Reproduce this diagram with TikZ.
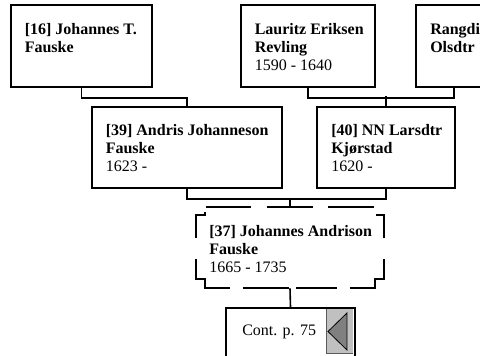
\documentclass[tikz,border=0pt]{standalone}
\usepackage{fontspec}
\setmainfont{Liberation Serif}
\usetikzlibrary{fit}
\begin{document}
\begin{tikzpicture}[x=0.75pt,y=-0.75pt,
  box/.style={draw=black, line width=1.5pt, fill=white, inner sep=0pt},
  ghost/.style={inner sep=0pt},
  conn/.style={line width=1.2pt},
  txt/.style={inner sep=0pt, anchor=base west, font=\fontsize{12}{13.6}\selectfont},
  dsh/.style={line width=1pt}]
\useasboundingbox (0,0) rectangle (480,355);
\clip (0,0) rectangle (480,355);

% boxes
\node[box, fit={(11,5)(152,87)}] (b16) {};
\node[box, fit={(241,5)(375,87)}] (bLE) {};
\node[box, fit={(416,5)(492,87)}] (bRO) {};
\node[box, fit={(92,107)(282,188)}] (b39) {};
\node[box, fit={(317,107)(455,188)}] (b40) {};
\node[ghost, fit={(196,207)(384,288)}] (b37) {};

% continuation box
\node[box, fit={(226,308)(355,380)}] (cont) {};
\fill[fill={rgb,255:red,192;green,192;blue,192}] (326,308) rectangle (353,353);
\draw[line width=0.6pt, draw={rgb,255:red,90;green,90;blue,90}] (326,308) -- (326,353) -- (353,353);
\draw[line width=0.6pt, fill={rgb,255:red,128;green,128;blue,128}] (347,313) -- (328,331.5) -- (347,350) -- cycle;
\draw[line width=1.5pt] (226,380) -- (226,308) -- (355,308) -- (355,380);

% dashed outline of [37]
\draw[dsh] (206,207) -- (251,207);
\draw[dsh] (267,207) -- (313,207);
\draw[dsh] (328,207) -- (374,207);
\draw[dsh] (205,212) -- (205,215) -- (196,215) -- (196,238);
\draw[dsh] (196,259) -- (196,279) -- (205,279) -- (205,288) -- (230,288);
\draw[dsh] (243,288) -- (289,288);
\draw[dsh] (296,288) -- (337,288);
\draw[dsh] (350,288) -- (375,288) -- (375,279) -- (384,279) -- (384,259);
\draw[dsh] (384,238) -- (384,215) -- (376,215);

% connectors
\draw[conn] (b16.south) -- ++(0,10) -| (b39.north);
\draw[conn] (bLE.south) -- ++(0,10) -| (bRO.south);
\draw[conn] (b40.north) -- ++(0,-10);
\draw[conn] (b39.south) -- ++(0,10) -| (b40.south);
\draw[conn] (b37.north) -- ++(0,-9);
\draw[conn] (b37.south) -- (cont.north);

% texts
\node[txt] (t16) at (24.5,34) {\parbox[t]{6cm}{\raggedright\textbf{[16] Johannes T.}\\\textbf{Fauske}}};
\node[txt] (tLE) at (254.5,34) {\parbox[t]{6cm}{\raggedright\textbf{Lauritz Eriksen}\\\textbf{Revling}\\1590 - 1640}};
\node[txt] (tRO) at (430,34) {\parbox[t]{6cm}{\raggedright\textbf{Rangdi}\\\textbf{Olsdtr}}};
\node[txt] (t39) at (105.5,135) {\parbox[t]{6cm}{\raggedright\textbf{[39] Andris Johanneson}\\\textbf{Fauske}\\1623 -}};
\node[txt] (t40) at (331,135) {\parbox[t]{6cm}{\raggedright\textbf{[40] NN Larsdtr}\\\textbf{Kjørstad}\\1620 -}};
\node[txt] (t37) at (209,236.5) {\parbox[t]{6cm}{\raggedright\textbf{[37] Johannes Andrison}\\\textbf{Fauske}\\1665 - 1735}};
\node[txt] (tcont) at (242,335) {Cont. p. 75};
\end{tikzpicture}
\end{document}
